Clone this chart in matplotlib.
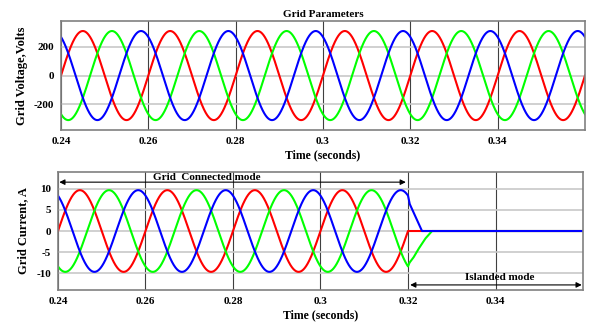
import numpy as np
import matplotlib
matplotlib.use('Agg')
import matplotlib.pyplot as plt

plt.rcParams['font.family'] = ['Liberation Serif', 'DejaVu Serif']
plt.rcParams['font.weight'] = 'bold'
plt.rcParams['axes.unicode_minus'] = False

# values
f_grid = 50            # Hz
v_peak = 311           # V
i_peak = 9.7           # A
phase_colors = ['red', '#00ff00', 'blue']
phase_shift_deg = [0, -120, 120]
t_start, t_end = 0.24, 0.36
t_island = 0.32

# current after islanding (read point by point)
red_tail_t = [0.3200, 0.3600]
red_tail_i = [0.0, 0.0]
green_tail_t = [0.3200, 0.32036, 0.3213, 0.3225, 0.3240, 0.3255, 0.3600]
green_tail_i = [-8.4, -7.5, -6.2, -4.1, -1.75, 0.0, 0.0]
blue_tail_t = [0.3200, 0.3204, 0.3232, 0.3600]
blue_tail_i = [8.4, 6.4, 0.0, 0.0]
tails = [(red_tail_t, red_tail_i), (green_tail_t, green_tail_i), (blue_tail_t, blue_tail_i)]

xticks = [0.24, 0.26, 0.28, 0.3, 0.32, 0.34]
xtick_labels = ['0.24', '0.26', '0.28', '0.3', '0.32', '0.34']

t = np.linspace(t_start, t_end, 3000)
t_on = t[t <= t_island]

fig = plt.figure(figsize=(5.91, 3.24), dpi=100)
ax1 = fig.add_axes([0.1032, 0.5988, 0.8866, 0.336])
ax2 = fig.add_axes([0.0981, 0.105, 0.8884, 0.364])


def style(ax, label_y):
    ax.set_xlim(t_start, t_end)
    ax.set_xticks(xticks)
    ax.set_xticklabels(xtick_labels)
    ax.tick_params(length=0, labelsize=8, pad=5)
    ax.xaxis.grid(True, color='#404040', lw=0.8)
    ax.yaxis.grid(True, color='#c8c8c8', lw=1.2)
    ax.set_axisbelow(True)
    for s in ax.spines.values():
        s.set_color('#808080')
        s.set_linewidth(1.2)
    ax.set_xlabel('Time (seconds)', fontsize=8.5, fontweight='bold', va='center')
    ax.xaxis.set_label_coords(0.5, label_y)


# voltages
for c, ph in zip(phase_colors, phase_shift_deg):
    ax1.plot(t, v_peak * np.sin(2 * np.pi * f_grid * t + np.radians(ph)), color=c, lw=1.5)
style(ax1, -0.235)
ax1.set_ylim(-380, 380)
ax1.set_yticks([-200, 0, 200])
ax1.set_title('Grid Parameters', fontsize=8, fontweight='bold', pad=3)
ax1.set_ylabel('Grid Voltage,Volts', fontsize=9, fontweight='bold', labelpad=4)

# currents
for c, ph, (tt, ii) in zip(phase_colors, phase_shift_deg, tails):
    i_on = i_peak * np.sin(2 * np.pi * f_grid * t_on + np.radians(ph))
    ax2.plot(np.concatenate([t_on, tt]), np.concatenate([i_on, ii]), color=c, lw=1.5)
style(ax2, -0.215)
ax2.set_ylim(-14, 14)
ax2.set_yticks([-10, -5, 0, 5, 10])
ax2.set_ylabel('Grid Current, A', fontsize=9, fontweight='bold', labelpad=5)

arrow = dict(arrowstyle='<|-|>', color='black', lw=0.8, mutation_scale=8,
             shrinkA=0, shrinkB=0)
ax2.annotate('', xy=(0.2403, 11.6), xytext=(0.3195, 11.6), arrowprops=arrow)
ax2.text(0.274, 12.6, 'Grid  Connected mode', fontsize=8, fontweight='bold',
         ha='center', va='center')
ax2.annotate('', xy=(0.3205, -12.8), xytext=(0.3597, -12.8), arrowprops=arrow)
ax2.text(0.341, -11.0, 'Islanded mode', fontsize=8, fontweight='bold',
         ha='center', va='center')

fig.savefig('out.png', dpi=100)
